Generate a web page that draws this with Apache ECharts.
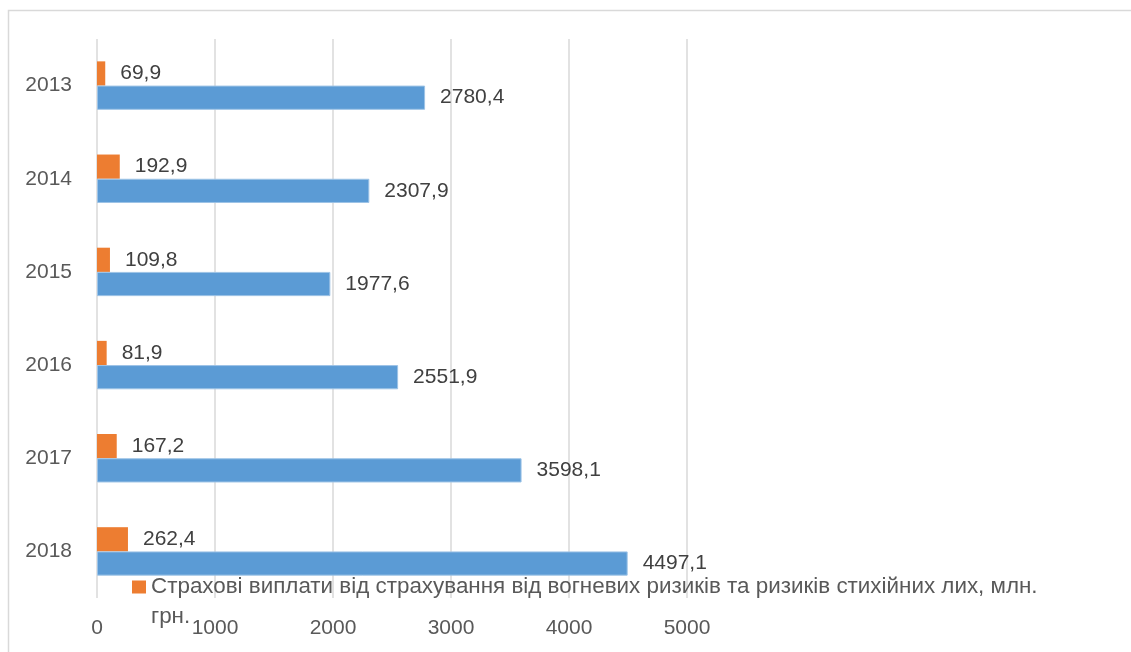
<!DOCTYPE html>
<html>
<head>
<meta charset="utf-8">
<script src="https://cdn.jsdelivr.net/npm/echarts@6/dist/echarts.min.js"></script>
<style>
  html, body { margin: 0; padding: 0; background: #ffffff; }
  #chart { width: 1131px; height: 652px; }
</style>
</head>
<body>
<div id="chart"></div>
<script>
// Years shown on the category axis (top to bottom)
const years = ['2013', '2014', '2015', '2016', '2017', '2018'];
// Insurance payouts, mln UAH
const payouts = [69.9, 192.9, 109.8, 81.9, 167.2, 262.4];
// Insurance premiums, mln UAH
const premiums = [2780.4, 2307.9, 1977.6, 2551.9, 3598.1, 4497.1];
// Value axis ticks
const xTicks = [0, 1000, 2000, 3000, 4000, 5000];

// Legend caption of the payouts series, split over two lines
const legendLine1 = 'Страхові виплати від страхування від вогневих ризиків та ризиків стихійних лих, млн.';
const legendLine2 = 'грн.';
const payoutsName = legendLine1 + ' ' + legendLine2;
const premiumsName = 'Страхові премії';

const FONT = 'Liberation Sans';
const SIZE = 21;
const LEGEND_SIZE = 22.4;
const fmt = p => String(p.value).replace('.', ',');

const chart = echarts.init(document.getElementById('chart'), null, { renderer: 'canvas' });

chart.setOption({
  animation: false,
  backgroundColor: '#ffffff',
  textStyle: { fontFamily: FONT },
  graphic: [
    {
      type: 'rect',
      shape: { x: 8.5, y: 10.5, width: 1140, height: 660 },
      style: { fill: 'none', stroke: '#d9d9d9', lineWidth: 1.5 },
      silent: true
    },
    {
      type: 'text',
      left: 151,
      top: 606,
      style: { text: legendLine2, fontFamily: FONT, fontSize: LEGEND_SIZE, fill: '#595959' },
      silent: true
    }
  ],
  grid: { left: 97, top: 39, width: 590, height: 559, containLabel: false },
  legend: {
    data: [payoutsName],
    left: 132,
    top: 576,
    padding: 0,
    itemWidth: 14,
    itemHeight: 13,
    icon: 'rect',
    formatter: () => legendLine1,
    textStyle: { fontFamily: FONT, fontSize: LEGEND_SIZE, color: '#595959' }
  },
  xAxis: {
    type: 'value',
    min: xTicks[0],
    max: xTicks[xTicks.length - 1],
    interval: 1000,
    axisLine: { show: false },
    axisTick: { show: false },
    splitLine: { show: true, lineStyle: { color: '#d9d9d9', width: 1.5 } },
    axisLabel: {
      fontFamily: FONT, fontSize: SIZE, color: '#595959', margin: 20,
      formatter: v => String(v)
    }
  },
  yAxis: {
    type: 'category',
    data: years,
    inverse: true,
    axisLine: { show: false },
    axisTick: { show: false },
    axisLabel: { fontFamily: FONT, fontSize: SIZE, color: '#595959', margin: 25 }
  },
  series: [
    {
      name: payoutsName,
      type: 'bar',
      data: payouts,
      barGap: '0%',
      barCategoryGap: '48%',
      itemStyle: { color: '#ed7d31' },
      label: {
        show: true, position: 'right', distance: 15,
        fontFamily: FONT, fontSize: SIZE, color: '#404040',
        formatter: fmt
      }
    },
    {
      name: premiumsName,
      type: 'bar',
      data: premiums,
      barGap: '0%',
      barCategoryGap: '48%',
      itemStyle: { color: '#5b9bd5', borderColor: '#9dc3e6', borderWidth: 1 },
      label: {
        show: true, position: 'right', distance: 15,
        fontFamily: FONT, fontSize: SIZE, color: '#404040',
        formatter: fmt
      }
    }
  ]
});
</script>
</body>
</html>
